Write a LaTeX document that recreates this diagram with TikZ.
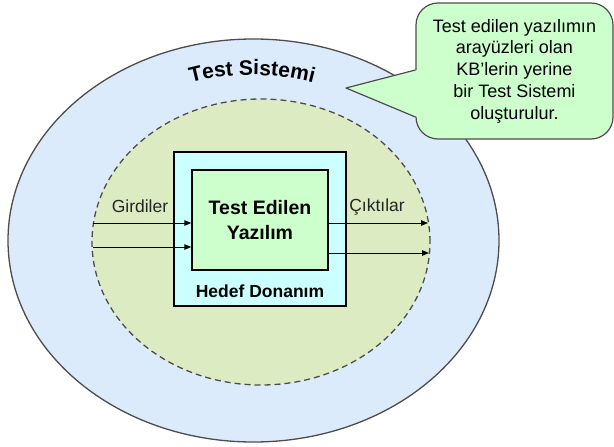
\documentclass[tikz,border=0pt]{standalone}
\usepackage{fontspec}
\setmainfont{Liberation Sans}
\usetikzlibrary{shapes.geometric,arrows.meta,decorations.text}
\definecolor{sysblue}{HTML}{DCEBFC}
\definecolor{envgreen}{HTML}{DCEBC2}
\definecolor{hwcyan}{HTML}{CCFFFF}
\definecolor{swgreen}{HTML}{CCFFCC}
\definecolor{rim}{HTML}{4D4D4D}
\tikzset{
  sysring/.style={ellipse, draw=rim, line width=1.3pt, fill=sysblue, inner sep=0pt},
  envring/.style={ellipse, draw=rim, line width=1.3pt, dash pattern=on 6pt off 4pt, fill=envgreen, inner sep=0pt},
  hwbox/.style={rectangle, draw=black, line width=1.3pt, fill=hwcyan, inner sep=0pt},
  swbox/.style={rectangle, draw=black, line width=1.3pt, fill=swgreen, inner sep=0pt, align=center,
    font=\fontsize{19.5}{25}\selectfont\bfseries},
  flow/.style={draw=black, line width=1pt, -{Triangle[length=7pt,width=5.5pt]}},
  portlabel/.style={font=\fontsize{17.5}{20}\selectfont, text=black!85, anchor=base, inner sep=0pt},
  hwlabel/.style={font=\fontsize{17.5}{20}\selectfont\bfseries, anchor=base, inner sep=0pt},
  note/.style={rectangle, rounded corners=22pt, draw=rim, line width=1.2pt, fill=swgreen,
    align=center, inner sep=0pt, font=\fontsize{18}{21.7}\selectfont}
}
\begin{document}
\begin{tikzpicture}[x=1pt,y=-1pt]
\useasboundingbox (0,0) rectangle (614,447);

% test system and its environment
\node[sysring, minimum width=491pt, minimum height=403pt] (sys) at (253.5,240.5) {};
\node[envring, minimum width=338pt, minimum height=286pt] (env) at (261,242) {};

% target hardware and software under test
\node[hwbox, minimum width=172pt, minimum height=154pt] (hw) at (260,229) {};
\node[swbox, minimum width=136pt, minimum height=100pt] (sw) at (260,220) {Test Edilen\\Yazılım};
\node[hwlabel] (hwname) at (260,297) {Hedef Donanım};

% inputs and outputs
\coordinate (in1) at (93,223);
\coordinate (in2) at (93,247);
\coordinate (out1) at (428,223);
\coordinate (out2) at (429,253);
\draw[flow] (in1) -- (in1 -| sw.west);
\draw[flow] (in2) -- (in2 -| sw.west);
\draw[flow] (out1 -| sw.east) -- (out1);
\draw[flow] (out2 -| sw.east) -- (out2);
\node[portlabel] (inlabel) at (140,212) {Girdiler};
\node[portlabel] (outlabel) at (377,211) {Çıktılar};

% curved title of the test system
\path[decorate, decoration={text along path, text align=center,
  text={|\fontsize{21}{21}\selectfont\bfseries|Test Sistemi}}]
  (252,315) ++(254:240) arc[start angle=254, end angle=286, radius=240];

% callout
\node[note, minimum width=197pt, minimum height=136pt] (callout) at (514.5,71)
  {Test edilen yazılımın\\arayüzleri olan\\KB’lerin yerine\\bir Test Sistemi\\oluşturulur.};
\coordinate (tip) at (346,88);
\coordinate (tailtop) at (callout.west |- 0,70);
\coordinate (tailbot) at (callout.west |- 0,117);
\fill[swgreen] (tip) -- ([xshift=2pt]tailtop) -- ([xshift=2pt]tailbot) -- cycle;
\draw[rim, line width=1.2pt, line join=round] (tailtop) -- (tip) -- (tailbot);
\end{tikzpicture}
\end{document}
